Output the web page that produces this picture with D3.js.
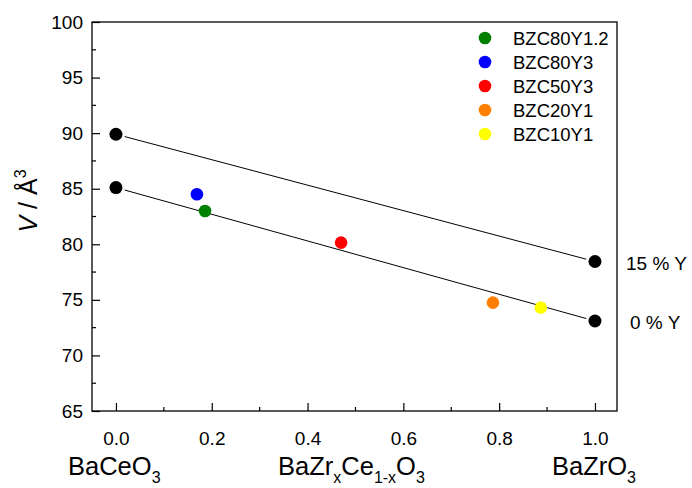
<!DOCTYPE html>
<html>
<head>
<meta charset="utf-8">
<script src="https://cdn.jsdelivr.net/npm/d3@7/dist/d3.min.js"></script>
<style>
  html, body { margin: 0; padding: 0; background: #fff; }
  svg text { font-family: "Liberation Sans", Arial, sans-serif; fill: #000; }
</style>
</head>
<body>
<svg id="chart" width="692" height="488"></svg>
<script>
// Vegard-type reference lines (BaCeO3 -> BaZrO3)
const lineNames = ["15 % Y", "0 % Y"];
const lineX = [0, 1];
const line15Y = [89.9, 78.45];
const line0Y = [85.1, 73.1];

// Measured compositions
const sampleNames = ["BZC80Y1.2", "BZC80Y3", "BZC50Y3", "BZC20Y1", "BZC10Y1"];
const sampleX = [0.186, 0.169, 0.470, 0.787, 0.887];
const sampleV = [83.0, 84.5, 80.15, 74.75, 74.3];
const sampleColors = ["#008000", "#0000ff", "#ff0000", "#ff8000", "#ffff00"];

const xTicks = [0, 0.2, 0.4, 0.6, 0.8, 1.0];
const xMinor = [0.1, 0.3, 0.5, 0.7, 0.9];
const yTicks = [65, 70, 75, 80, 85, 90, 95, 100];
const yMinor = [67.5, 72.5, 77.5, 82.5, 87.5, 92.5, 97.5];

const svg = d3.select("#chart");
const L = 92, R = 617, T = 22, B = 411;
const FONT = "Liberation Sans, Arial, sans-serif";

const x = d3.scaleLinear().domain([-0.05, 1.046]).range([L, R]);
const y = d3.scaleLinear().domain([65, 100]).range([B, T]);

// frame
svg.append("rect").attr("x", L).attr("y", T).attr("width", R - L).attr("height", B - T)
  .attr("fill", "none").attr("stroke", "#000").attr("stroke-width", 1.3);

// bottom axis, ticks pointing inward
const xAxis = svg.append("g").attr("transform", `translate(0,${B})`)
  .call(d3.axisBottom(x).tickValues(xTicks).tickSizeInner(-8).tickSizeOuter(0).tickPadding(21)
    .tickFormat(d3.format(".1f")));
xAxis.select(".domain").remove();
xAxis.selectAll("text").attr("font-size", 19).style("font-family", FONT);
xAxis.selectAll("line").attr("stroke-width", 1.2);
svg.append("g").selectAll("line").data(xMinor).join("line")
  .attr("x1", d => x(d)).attr("x2", d => x(d)).attr("y1", B).attr("y2", B - 4)
  .attr("stroke", "#000").attr("stroke-width", 1.2);

// left axis, ticks pointing inward
const yAxis = svg.append("g").attr("transform", `translate(${L},0)`)
  .call(d3.axisLeft(y).tickValues(yTicks).tickSizeInner(-8).tickSizeOuter(0).tickPadding(9));
yAxis.select(".domain").remove();
yAxis.selectAll("text").attr("font-size", 19).style("font-family", FONT);
yAxis.selectAll("line").attr("stroke-width", 1.2);
svg.append("g").selectAll("line").data(yMinor).join("line")
  .attr("x1", L).attr("x2", L + 4).attr("y1", d => y(d)).attr("y2", d => y(d))
  .attr("stroke", "#000").attr("stroke-width", 1.2);

// reference lines, with a small gap at each end point
[line15Y, line0Y].forEach(vals => {
  const x0 = x(lineX[0]), y0 = y(vals[0]), x1 = x(lineX[1]), y1 = y(vals[1]);
  const len = Math.hypot(x1 - x0, y1 - y0), g = 9;
  const ux = (x1 - x0) / len, uy = (y1 - y0) / len;
  svg.append("line")
    .attr("x1", x0 + ux * g).attr("y1", y0 + uy * g)
    .attr("x2", x1 - ux * g).attr("y2", y1 - uy * g)
    .attr("stroke", "#000").attr("stroke-width", 1);
});

// end points
const endPts = [];
[line15Y, line0Y].forEach(vals => lineX.forEach((xv, i) => endPts.push([xv, vals[i]])));
svg.append("g").selectAll("circle").data(endPts).join("circle")
  .attr("cx", d => x(d[0])).attr("cy", d => y(d[1])).attr("r", 6.5).attr("fill", "#000");

// samples
svg.append("g").selectAll("circle").data(sampleNames).join("circle")
  .attr("cx", (d, i) => x(sampleX[i])).attr("cy", (d, i) => y(sampleV[i]))
  .attr("r", 6.3).attr("fill", (d, i) => sampleColors[i]);

// line labels on the right
[line15Y, line0Y].forEach((vals, i) => {
  svg.append("text").attr("x", i === 0 ? 626 : 630).attr("y", y(vals[1]) + 8)
    .attr("font-size", 19).text(lineNames[i]);
});

// legend
const leg = svg.append("g");
sampleNames.forEach((n, i) => {
  const cy = 38 + i * 24;
  leg.append("circle").attr("cx", 485).attr("cy", cy).attr("r", 6.3).attr("fill", sampleColors[i]);
  leg.append("text").attr("x", 513).attr("y", cy + 6.5).attr("font-size", 18.5).text(n);
});

// y axis title
const yt = svg.append("text").attr("transform", "translate(37,201) rotate(-90)")
  .attr("text-anchor", "middle").attr("font-size", 25);
yt.append("tspan").attr("font-style", "italic").text("V");
yt.append("tspan").text(" / Å");
yt.append("tspan").attr("font-size", 16).attr("dy", -11).text("3");

// composition labels under the axis
function formula(xpos, parts) {
  const t = svg.append("text").attr("x", xpos).attr("y", 475).attr("font-size", 25.5);
  let shift = 0;
  parts.forEach(([s, sub]) => {
    const target = sub ? 7.5 : 0;
    t.append("tspan").attr("dy", target - shift).attr("font-size", sub ? 16 : 25.5).text(s);
    shift = target;
  });
}
formula(68, [["BaCeO", 0], ["3", 1]]);
formula(278, [["BaZr", 0], ["x", 1], ["Ce", 0], ["1-x", 1], ["O", 0], ["3", 1]]);
formula(552, [["BaZrO", 0], ["3", 1]]);
</script>
</body>
</html>
